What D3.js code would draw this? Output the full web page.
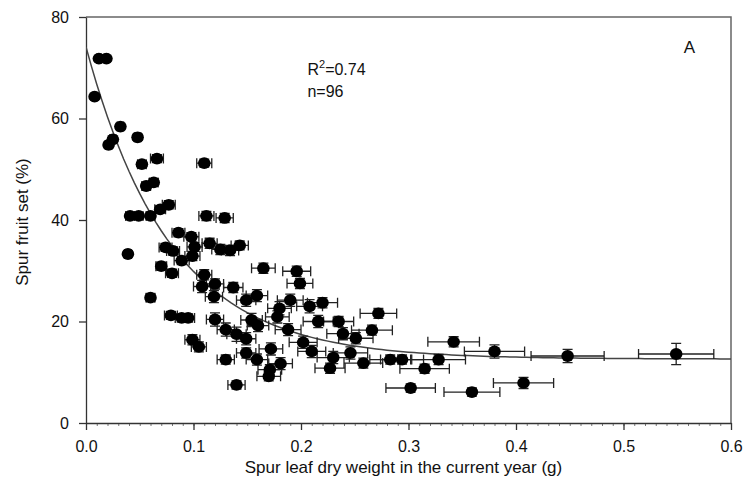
<!DOCTYPE html>
<html>
<head>
<meta charset="utf-8">
<script src="https://cdn.jsdelivr.net/npm/d3@7"></script>
<style>
  html, body { margin: 0; padding: 0; background: #fff; }
  svg { display: block; font-family: "Liberation Sans", Arial, sans-serif; }
</style>
</head>
<body>
<div id="chart"></div>
<script>
// spur leaf dry weight (g), spur fruit set (%) and their error half-widths
const leafWeight = [
  0.008, 0.012, 0.019, 0.032, 0.048, 0.025, 0.021, 0.052, 0.066, 0.110,
  0.056, 0.063, 0.041, 0.049, 0.060, 0.069, 0.077, 0.039, 0.086, 0.098,
  0.112, 0.129, 0.115, 0.143, 0.074, 0.081, 0.101, 0.089, 0.099, 0.125,
  0.134, 0.070, 0.080, 0.110, 0.108, 0.120, 0.137, 0.119, 0.149, 0.060,
  0.079, 0.089, 0.095, 0.120, 0.130, 0.140, 0.149, 0.099, 0.105, 0.130,
  0.149, 0.140, 0.165, 0.196, 0.199, 0.159, 0.190, 0.208, 0.220, 0.180,
  0.178, 0.154, 0.160, 0.216, 0.235, 0.272, 0.188, 0.239, 0.251, 0.266,
  0.202, 0.210, 0.172, 0.159, 0.181, 0.171, 0.170, 0.230, 0.246, 0.227,
  0.258, 0.283, 0.294, 0.328, 0.315, 0.302, 0.359, 0.342, 0.380, 0.448,
  0.549, 0.407
];
const fruitSet = [
  64.3, 71.8, 71.8, 58.4, 56.3, 55.9, 54.8, 51.0, 52.1, 51.2,
  46.7, 47.4, 40.8, 40.8, 40.8, 42.1, 43.0, 33.3, 37.5, 36.7,
  40.8, 40.4, 35.4, 35.0, 34.6, 33.9, 34.7, 32.0, 32.9, 34.2,
  34.0, 30.9, 29.5, 29.2, 26.9, 27.4, 26.7, 24.9, 24.2, 24.7,
  21.2, 20.7, 20.7, 20.4, 18.4, 17.5, 16.6, 16.4, 15.0, 12.5,
  13.8, 7.5, 30.5, 29.9, 27.5, 25.1, 24.2, 23.0, 23.7, 22.6,
  20.9, 20.3, 19.2, 20.0, 20.0, 21.6, 18.4, 17.6, 16.7, 18.3,
  15.9, 14.1, 14.6, 12.5, 11.7, 10.5, 9.2, 12.9, 13.8, 10.8,
  11.8, 12.5, 12.5, 12.5, 10.7, 6.9, 6.1, 16.0, 14.1, 13.2,
  13.6, 7.9
];
const leafErr = [
  0.002, 0.002, 0.002, 0.003, 0.003, 0.003, 0.003, 0.004, 0.006, 0.007,
  0.004, 0.004, 0.004, 0.004, 0.004, 0.005, 0.006, 0.003, 0.006, 0.007,
  0.007, 0.008, 0.007, 0.008, 0.006, 0.006, 0.007, 0.007, 0.007, 0.008,
  0.008, 0.005, 0.006, 0.007, 0.008, 0.008, 0.009, 0.008, 0.009, 0.004,
  0.006, 0.006, 0.006, 0.008, 0.008, 0.009, 0.009, 0.007, 0.007, 0.008,
  0.009, 0.008, 0.011, 0.013, 0.012, 0.010, 0.012, 0.012, 0.014, 0.011,
  0.011, 0.010, 0.010, 0.014, 0.014, 0.017, 0.012, 0.015, 0.016, 0.019,
  0.013, 0.013, 0.011, 0.010, 0.011, 0.011, 0.011, 0.015, 0.016, 0.014,
  0.018, 0.019, 0.020, 0.025, 0.023, 0.023, 0.026, 0.024, 0.028, 0.034,
  0.035, 0.028
];
const fruitErr = [
  0.5, 0.5, 0.5, 0.6, 0.6, 0.6, 0.6, 0.7, 0.8, 0.8,
  0.7, 0.7, 0.6, 0.6, 0.6, 0.7, 0.8, 0.6, 0.8, 0.8,
  0.9, 0.9, 1.0, 0.9, 0.8, 0.8, 0.9, 0.8, 0.9, 1.0,
  1.0, 0.8, 0.8, 1.0, 1.2, 1.0, 1.0, 1.2, 1.2, 0.7,
  0.8, 0.8, 0.8, 1.3, 1.3, 1.4, 1.2, 1.0, 1.0, 0.9,
  1.0, 0.8, 1.0, 1.0, 1.0, 1.2, 1.2, 1.3, 1.0, 1.3,
  1.2, 1.3, 1.2, 1.2, 1.0, 1.0, 1.2, 1.2, 1.1, 1.0,
  1.2, 1.2, 1.2, 1.1, 1.2, 1.0, 0.9, 1.2, 1.2, 1.0,
  1.0, 0.9, 0.9, 1.0, 0.9, 0.8, 0.8, 1.0, 1.3, 1.3,
  2.1, 1.1
];
// fitted curve y = c + a * exp(-b x)
const fit = { c: 12.6, a: 61.5, b: 12.7 };
const xTicks = [0, 0.1, 0.2, 0.3, 0.4, 0.5, 0.6];
const yTicks = [0, 20, 40, 60, 80];

const width = 745, height = 491;
const margin = { top: 17, right: 14, bottom: 68, left: 86 };
const innerW = width - margin.left - margin.right;
const innerH = height - margin.top - margin.bottom;

const points = leafWeight.map((x, i) => ({ x, y: fruitSet[i], xe: leafErr[i], ye: fruitErr[i] }));

const svg = d3.select('#chart').append('svg')
  .attr('width', width).attr('height', height);

const g = svg.append('g').attr('transform', `translate(${margin.left},${margin.top})`);

const x = d3.scaleLinear().domain([0, 0.6]).range([0, innerW]);
const y = d3.scaleLinear().domain([0, 80]).range([innerH, 0]);

svg.append('defs').append('clipPath').attr('id', 'plot-clip')
  .append('rect').attr('width', innerW).attr('height', innerH);

// frame (top + right)
g.append('path')
  .attr('d', `M0,0H${innerW}V${innerH}`)
  .attr('fill', 'none').attr('stroke', '#666').attr('stroke-width', 1.5);

// minor x ticks
g.append('g').attr('class', 'x-minor')
  .attr('transform', `translate(0,${innerH})`)
  .call(d3.axisBottom(x).tickValues(d3.range(0, 61).map(d => d / 100)).tickSize(3).tickFormat(''))
  .call(s => s.select('.domain').remove())
  .selectAll('.tick line').attr('stroke', '#777').attr('stroke-width', 1);

const xAxisG = g.append('g').attr('transform', `translate(0,${innerH})`)
  .call(d3.axisBottom(x).tickValues(xTicks).tickSize(7).tickSizeOuter(0).tickPadding(11).tickFormat(d3.format('.1f')));
xAxisG.selectAll('text').attr('font-size', 16).attr('fill', '#111').attr('font-family', '"Liberation Sans", Arial, sans-serif');
xAxisG.selectAll('.domain, .tick line').attr('stroke', '#333').attr('stroke-width', 1.3);

const yAxisG = g.append('g')
  .call(d3.axisLeft(y).tickValues(yTicks).tickSize(7).tickSizeOuter(0).tickPadding(10));
yAxisG.selectAll('text').attr('font-size', 16).attr('fill', '#111').attr('font-family', '"Liberation Sans", Arial, sans-serif');
yAxisG.selectAll('.domain, .tick line').attr('stroke', '#333').attr('stroke-width', 1.3);

// fitted curve
const curveX = d3.range(0, 0.6001, 0.005);
g.append('path')
  .datum(curveX)
  .attr('clip-path', 'url(#plot-clip)')
  .attr('fill', 'none').attr('stroke', '#444').attr('stroke-width', 1.5)
  .attr('d', d3.line().x(d => x(d)).y(d => y(fit.c + fit.a * Math.exp(-fit.b * d))));

// error bars
const cap = 5;
const eb = g.append('g').attr('stroke', '#222').attr('stroke-width', 1.3).attr('fill', 'none');
eb.selectAll('path.xerr').data(points).join('path').attr('class', 'xerr')
  .attr('d', d => {
    const x0 = x(d.x - d.xe), x1 = x(d.x + d.xe), yy = y(d.y);
    return `M${x0},${yy}H${x1}M${x0},${yy - cap}V${yy + cap}M${x1},${yy - cap}V${yy + cap}`;
  });
eb.selectAll('path.yerr').data(points).join('path').attr('class', 'yerr')
  .attr('d', d => {
    const xx = x(d.x), y0 = y(d.y - d.ye), y1 = y(d.y + d.ye);
    return `M${xx},${y0}V${y1}M${xx - cap},${y0}H${xx + cap}M${xx - cap},${y1}H${xx + cap}`;
  });

// markers
g.append('g').selectAll('ellipse').data(points).join('ellipse')
  .attr('cx', d => x(d.x)).attr('cy', d => y(d.y))
  .attr('rx', 6.3).attr('ry', 5.9)
  .attr('fill', '#000');

// annotations
const ann = g.append('g').attr('font-size', 16).attr('fill', '#111');
const r2 = ann.append('text').attr('x', x(0.206)).attr('y', y(68.5));
r2.append('tspan').text('R');
r2.append('tspan').attr('font-size', 11).attr('dy', -7).text('2');
r2.append('tspan').attr('dy', 7).text('=0.74');
ann.append('text').attr('x', x(0.206)).attr('y', y(64.2)).text('n=96');
ann.append('text').attr('x', x(0.556)).attr('y', y(72.9)).attr('font-size', 17).text('A');

// axis titles
svg.append('text')
  .attr('x', margin.left + innerW / 2 - 5).attr('y', 473)
  .attr('text-anchor', 'middle').attr('font-size', 17).attr('fill', '#111')
  .text('Spur leaf dry weight in the current year (g)');
svg.append('text')
  .attr('transform', `translate(28,${margin.top + innerH / 2 + 2}) rotate(-90)`)
  .attr('text-anchor', 'middle').attr('font-size', 17).attr('fill', '#111')
  .text('Spur fruit set (%)');
</script>
</body>
</html>
